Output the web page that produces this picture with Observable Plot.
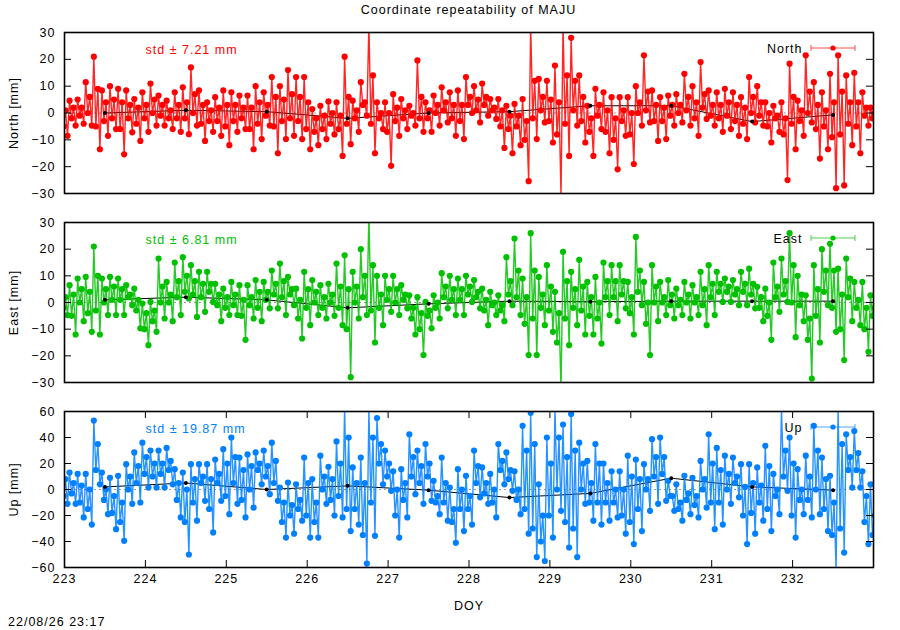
<!DOCTYPE html>
<html><head><meta charset="utf-8">
<script src="https://cdn.jsdelivr.net/npm/d3@7"></script>
<script src="https://cdn.jsdelivr.net/npm/@observablehq/plot@0.6"></script>
<style>
html,body{margin:0;padding:0;background:#fff;overflow:hidden;}
#wrap{position:relative;width:900px;height:630px;overflow:hidden;font-family:"Liberation Sans",Arial,sans-serif;font-size:12.5px;letter-spacing:1px;color:#000;}
.panel{position:absolute;left:0;}
.panel svg text{letter-spacing:1px;}
#title{position:absolute;top:1px;left:64px;width:809px;text-align:center;line-height:18px;}
#stamp{position:absolute;left:8px;top:613px;line-height:18px;}
</style></head>
<body><div id="wrap"><div id="title">Coordinate repeatability of MAJU</div><div id="stamp">22/08/26 23:17</div></div>
<script>
const doy = [223.0,223.1,223.2,223.3,223.4,223.5,223.6,223.7,223.8,223.9,
224.0,224.1,224.2,224.3,224.4,224.5,224.6,224.7,224.8,224.9,
225.0,225.1,225.2,225.3,225.4,225.5,225.6,225.7,225.8,225.9,
226.0,226.1,226.2,226.3,226.4,226.5,226.6,226.7,226.8,226.9,
227.0,227.1,227.2,227.3,227.4,227.5,227.6,227.7,227.8,227.9,
228.0,228.1,228.2,228.3,228.4,228.5,228.6,228.7,228.8,228.9,
229.0,229.1,229.2,229.3,229.4,229.5,229.6,229.7,229.8,229.9,
230.0,230.1,230.2,230.3,230.4,230.5,230.6,230.7,230.8,230.9,
231.0,231.1,231.2,231.3,231.4,231.5,231.6,231.7,231.8,231.9,
232.0,232.1,232.2,232.3,232.4,232.5,232.6,232.7,232.8,232.9,233.0];

// North: outer extremes (hi/lo) and dense-band edges (coreHi/coreLo), mm
const northHi = [4,4.6,5,11.5,21,8.4,10,9,8.4,5.2, 7.7,11,6.5,4.6,7.7,9.6,17,8.4,4,5.9, 8.4,7.7,6.5,6.5,10,7.7,13.4,10,16,13.4, 13.4,1.5,2.7,4.3,4,21,4.6,11.5,33,4, 4,7,5.2,2.7,19.6,4,6.5,9.6,7.7,8.4, 13.4,10,11,5.2,5.2,2.7,3.4,5.2,33,12.7, 12,17.7,33,28,14,2.7,9,7.7,5.9,5.9, 5.9,10,21.5,8.4,5.9,6.5,7,14.6,10,19, 8.4,7.7,9,7.7,5.9,13.4,10,4,2.7,4, 18.4,4.6,21.5,11.5,7.7,14.6,21.5,14,15,7.7,2];
const northLo = [-8.5,-4.7,-4,-4.7,-13.5,-8.5,-6,-15.4,-7.2,-10.4, -7,-4.7,-4.7,-6,-7,-7.9,-4.7,-10.4,-7,-8.5, -12,-7,-6,-13.5,-9.7,-4.7,-15,-9.7,-8.5,-9.7, -13.5,-12,-9.7,-8,-16,-11.6,-7,-1,-15,-6, -19.7,-8.5,-6,-4.7,-7,-7,-4.7,-3.5,-8.5,-9.7, 0,-3.5,-1,-2.2,-13,-15,-12,-25.4,-9.7,-3.5, -11,-31,-16,-4.7,-11,-16,-6,-15,-21,-8.5, -19,-4.7,-3.5,-10.4,-9.7,-4.7,-3.5,-4.7,-8.5,-2.2, -4.7,-7,-6,-8.5,-9.7,-3.5,-4.7,-11,-7,-25, -13.5,-8.5,-3.5,-17,-13.5,-28,-27,-12,-15,-4.7,-4.7];
const northCoreHi = [1,2,2,6,9, 4,5,4,3,2, 3,5,3,1,3, 4,7,3,1,2, 3,3,2,2,4, 3,6,5,7,6, 4,-2,-1,0,-1, 6,1,4,14,0, 0,2,1,0,6, 1,3,4,3,3, 6,5,6,2,1, -1,-1,-3,12,6, 5,4,14,12,6, -2,3,1,-2,1, 0,4,8,3,2, 3,3,6,4,7, 3,3,4,3,2, 6,4,0,-1,-2, 6,1,8,3,1, 4,8,4,4,2, 0];
const northCoreLo = [-5,-2,-1,0,-5, -3,-2,-6,-2,-4, -2,0,-1,-2,-2, -2,0,-4,-3,-3, -5,-3,-2,-6,-4, -1,-5,-3,-2,-3, -6,-7,-6,-4,-6, -4,-2,3,-4,-2, -7,-3,-2,-1,-2, -2,0,1,-2,-3, 3,1,3,1,-5, -6,-5,-10,-2,1, -3,-8,-4,1,-3, -7,-1,-7,-10,-3, -8,0,1,-3,-3, -1,0,1,-2,2, -1,-2,-1,-3,-4, 0,-1,-5,-2,-8, -4,-3,0,-6,-5, -9,-8,-4,-5,-1, -2];

// East
const eastHi = [4.6,6.5,9,9.6,21,9,9.6,9,6.5,5.2, -0.4,0.2,16.5,7.7,15,17,14,11.5,11.5,7, 5.2,7.7,6.5,6.5,8.4,7.7,12,14.6,9.6,5.2, 11.5,8.4,6.5,7,14.6,17.7,11.5,20,33,10, 10,10,6.5,2.7,2,0.2,2.7,11,10,9, 10,8.4,5.2,4,2.7,17,24,9,26,9.6, 14,4,19,11.5,16,7.7,9.6,15,14,14, 7.7,24.6,7.7,14,7.7,8.4,5.2,7.7,6.5,11.5, 14,11.5,9,8.4,11.5,12.7,5.9,5.2,15,16.5, 26,10,2.7,14,20,22,12.7,16.5,7.7,7.7,2.7];
const eastLo = [-4.7,-12,-7,-11,-12,-4.7,-4.7,-4.7,-1,-9.7, -16,-11,-6,-7,-4.7,1.5,-5.4,-3.5,0.2,-7, -4.7,-4.7,-14,-6,-7,-2.2,-2.2,-4.7,-1,-13.5, -8.5,-4.7,-6,-5,-8.5,-28,-6,-4.7,-15,-8.5, -3.5,-4.7,-2.2,-12,-19.7,-9.7,-6,-2.2,-4.7,-4.7, 0.2,-2.2,-8.5,-4.7,-7,-1,-4.7,-19.7,-19.7,-8.5, -11,-33,-16,-8.5,-12,-12,-15.4,-4.7,-7,-2.2, -12,-1,-19.7,-7,-4.7,-6,-4.7,-6,-4.7,-8.5, -4.7,0.2,0.2,-1,-1,-2.2,-7,-14,-3.5,0.2, -13,-7,-28.5,-15,-1,-11,-21.6,-7,-8.5,-18.5,-9.7];
const eastCoreHi = [2,3,5,4,10, 5,6,5,3,1, -4,-3,6,3,8, 10,8,7,7,3, 2,3,1,2,4, 4,7,8,5,1, 5,4,2,3,6, 5,6,10,14,3, 5,5,3,-2,-4, -3,0,6,5,5, 6,4,1,0,-1, 8,12,2,12,3, 6,-4,8,5,6, 2,0,8,8,8, 2,12,0,6,2, 3,1,3,2,5, 7,7,6,5,7, 7,2,0,6,8, 14,3,-6,5,12, 12,3,9,1,-2, -2];
const eastCoreLo = [-2,-5,0,-4,-3, 0,1,1,2,-3, -10,-7,0,0,2, 4,3,2,4,-1, -2,-1,-5,-1,-2, 1,3,2,3,-6, -2,0,-2,0,-2, -10,0,2,-3,-2, 1,0,1,-6,-10, -5,-2,2,1,1, 3,2,-3,-1,-3, 3,2,-8,-6,-2, -3,-15,-6,-2,-3, -5,-6,2,2,3, -4,4,-8,0,0, -1,-1,0,0,-1, 2,4,4,3,4, 3,-2,-5,2,3, 0,-1,-14,-5,4, -2,-10,2,-2,-10, -5];

// Up
const upHi = [18,13,12,12,53,13,9,10.5,19.5,28.5, 36,30,30,32,15.6,13,19.5,19.5,19.5,23, 31,40,24.6,27,28.5,30,36,1.5,5.4,4, 24.6,8,26,17.5,37,62,17,24.6,62,55, 30,14,15.6,42.5,30,35,6.7,24.6,1.5,15.6, 10.5,30,17,12,35,28.5,14,49,59,4, 40,62,50,58,36,22,35,20,14,14, 26,23,19.5,38.7,40,6.7,4,10.5,9,22, 42.5,32,26,24.6,19.5,19.5,17,33.6,12,62, 40,15.6,26,49,24.6,10.5,62,42.5,45,14,4];
const upLo = [-11,-11,-21.5,-27,4,-19,-30.5,-39.5,-11,-10, 1.5,1.5,1.5,4,-21.5,-50,-24,-8.7,-33,-8.7, -19,-11,-21.5,-14,4,-3.6,-8.7,-37,-34,-24, -37,-37,-11,-20,-21.5,-32,-27,-57,-35.6,4, -1,-37,-21.5,-3.6,-11,-8.7,-19,-24,-41,-32, -27,-6,-11,-21.5,4,-1,-19,-34,-52,-55, -37,-16.4,-44.6,-52,-11,-24,-27,-24,-21.5,-34, -42,-32,-16.4,-11,-8.7,-16.4,-24,-19,-21.5,-14, -30.5,-27,-11,-6,-42,-34,-24,-32,-19,-1, -37,-19,-21.5,-19,-32,-62,-48.5,1.5,1.5,-42,-55];
const upCoreHi = [8,5,3,0,35, 0,-5,-10,10,18, 25,20,20,22,5, 0,8,10,8,12, 20,25,15,18,20, 18,22,-10,-12,-8, 5,-10,10,8,20, 40,5,5,40,35, 20,0,5,25,18, 20,-5,5,-15,0, -5,18,5,0,22, 15,0,30,35,-20, 20,40,25,30,20, 5,20,5,0,0, 10,8,8,25,25, -5,-10,-3,-5,8, 20,15,12,10,2, 5,3,18,0,30, 20,0,10,30,8, -10,35,25,28,-5, -20];
const upCoreLo = [-5,-3,-10,-15,15, -8,-18,-25,0,5, 12,10,12,15,-8, -25,-10,5,-15,5, -5,5,-8,0,15, 10,5,-25,-20,-15, -20,-25,0,-8,-5, -15,-15,-35,-10,20, 10,-20,-8,10,5, 10,-10,-10,-25,-15, -15,5,-3,-10,15, 8,-8,-15,-30,-40, -20,0,-25,-30,0, -10,-10,-10,-10,-20, -25,-15,0,10,12, -5,-15,-8,-12,0, -10,-10,0,5,-20, -18,-10,-15,-5,10, -20,-8,-8,0,-15, -35,-30,15,15,-25, -35];

// daily means (black line)
const meanDoy = [223.5,224.5,225.5,226.5,227.5,228.5,229.5,230.5,231.5,232.5];
const northMean = [0,1,0.5,-2,0,0.5,2.7,2.7,-3.2,-0.7];
const eastMean = [1,2,1,-2,-0.5,0.5,0.3,0.5,0.5,0.5];
const upMean = [2,5,0,2.8,-0.5,-6.2,-3,8.7,2,-0.5];

const xTicks = [223,224,225,226,227,228,229,230,231,232];
const nTicks = [-30,-20,-10,0,10,20,30];
const eTicks = [-30,-20,-10,0,10,20,30];
const uTicks = [-60,-40,-20,0,20,40,60];

const panels = [
  {ylabel:"North [mm]", legend:"North", std:"std ± 7.21 mm", color:"#ff0000", hi:northHi, lo:northLo, ch:northCoreHi, cl:northCoreLo, mean:northMean, ticks:nTicks, top:22, inner:161, mb:8, bottom:false},
  {ylabel:"East [mm]", legend:"East", std:"std ± 6.81 mm", color:"#00c000", hi:eastHi, lo:eastLo, ch:eastCoreHi, cl:eastCoreLo, mean:eastMean, ticks:eTicks, top:212, inner:160, mb:8, bottom:false},
  {ylabel:"Up [mm]", legend:"Up", std:"std ± 19.87 mm", color:"#0080ff", hi:upHi, lo:upLo, ch:upCoreHi, cl:upCoreLo, mean:upMean, ticks:uTicks, top:401, inner:156, mb:50, bottom:true}
];

const W = 900, ML = 64, MR = 27, MT = 10;
const innerW = W - ML - MR;
const FS = 12.5;
const wrap = document.getElementById("wrap");

for (const p of panels) {
  // within each 0.1-day sample: extreme high, band low, band high, extreme low
  const data = [];
  doy.forEach((t, i) => {
    data.push({t: t - 0.0375, v: p.hi[i]});
    data.push({t: t - 0.0125, v: p.cl[i]});
    data.push({t: t + 0.0125, v: p.ch[i]});
    data.push({t: t + 0.0375, v: p.lo[i]});
  });
  const means = meanDoy.map((t, i) => ({t, v: p.mean[i]}));
  const dom = [p.ticks[0], p.ticks[p.ticks.length - 1]];
  const marks = [
    Plot.ruleY([0], {stroke: "#999", strokeDasharray: "2,3"}),
    Plot.line(means, {x: "t", y: "v", stroke: "#000", strokeWidth: 1, clip: true}),
    Plot.line(data, {x: "t", y: "v", stroke: p.color, strokeWidth: 1.4, strokeOpacity: 0.85, clip: true}),
    Plot.dot(data, {x: "t", y: "v", r: 3.1, fill: p.color, clip: true}),
    Plot.dot(means, {x: "t", y: "v", r: 2, fill: "#000", clip: true}),
    Plot.ruleY(p.ticks, {stroke: "#000", insetRight: innerW - 7}),
    Plot.ruleY(p.ticks, {stroke: "#000", insetLeft: innerW - 7}),
    Plot.axisY(p.ticks, {tickSize: 0, tickPadding: 9, label: null, fontSize: FS}),
    Plot.text([p.ylabel], {frameAnchor: "left", rotate: -90, dx: -51, textAnchor: "middle", lineAnchor: "middle", fontSize: FS}),
    Plot.text([p.std], {frameAnchor: "top-left", dx: 81, dy: 17, textAnchor: "start", lineAnchor: "middle", fill: p.color, fontSize: FS}),
    Plot.text([p.legend], {frameAnchor: "top-right", dx: -71, dy: 16, textAnchor: "end", lineAnchor: "middle", fontSize: FS}),
    Plot.frame({stroke: "#000", strokeWidth: 1.6})
  ];
  if (p.bottom) {
    marks.push(
      Plot.ruleX(xTicks, {stroke: "#000", insetTop: p.inner - 7}),
      Plot.ruleX(xTicks, {stroke: "#000", insetBottom: p.inner - 7}),
      Plot.axisX(xTicks, {tickSize: 0, tickPadding: 7, label: null, fontSize: FS, tickFormat: d => String(d)}),
      Plot.text(["DOY"], {frameAnchor: "bottom", dy: 38, lineAnchor: "middle", fontSize: FS})
    );
  }
  const H = MT + p.inner + p.mb;
  const svg = Plot.plot({
    width: W, height: H,
    marginLeft: ML, marginRight: MR, marginTop: MT, marginBottom: p.mb,
    x: {domain: [223, 233], axis: p.bottom ? undefined : null},
    y: {domain: dom},
    style: {fontFamily: "'Liberation Sans', Arial, sans-serif", fontSize: FS + "px", background: "transparent", overflow: "visible"},
    marks
  });
  // legend key (error-bar style)
  const g = d3.select(svg).append("g").attr("stroke", p.color).attr("stroke-opacity", 0.7).attr("fill", "none");
  const ly = MT + 16, lx1 = 811, lx2 = 855, lxm = 833;
  g.append("line").attr("x1", lx1).attr("x2", lx2).attr("y1", ly).attr("y2", ly);
  g.append("line").attr("x1", lx1).attr("x2", lx1).attr("y1", ly - 3).attr("y2", ly + 3);
  g.append("line").attr("x1", lx2).attr("x2", lx2).attr("y1", ly - 3).attr("y2", ly + 3);
  d3.select(svg).append("circle").attr("cx", lxm).attr("cy", ly).attr("r", 2.6).attr("fill", p.color);
  const div = document.createElement("div");
  div.className = "panel";
  div.style.top = p.top + "px";
  div.appendChild(svg);
  wrap.appendChild(div);
}
</script>
</body></html>
